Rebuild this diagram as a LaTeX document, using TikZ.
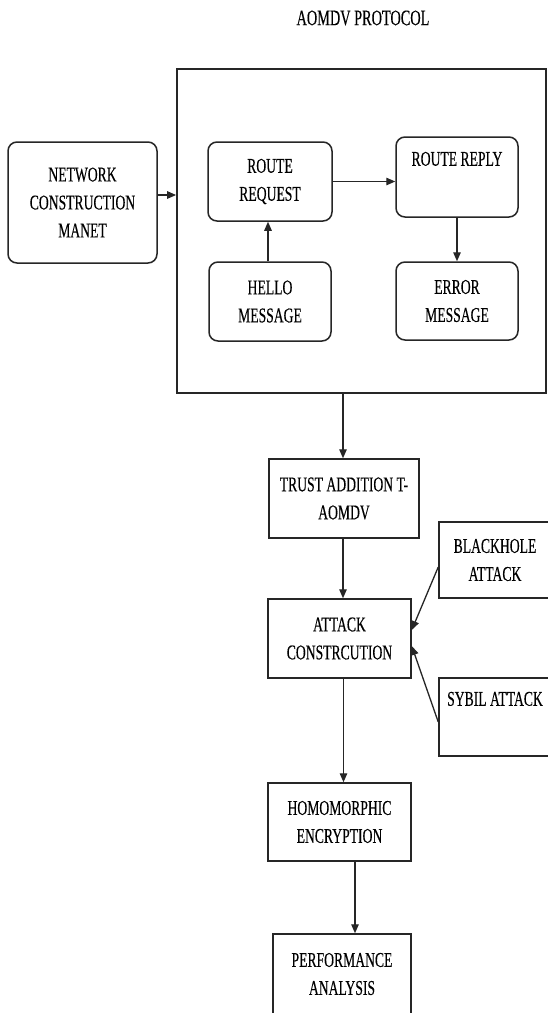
\documentclass[tikz,border=0pt]{standalone}
\usepackage{fontspec}
\setmainfont{Liberation Serif}[FakeStretch=0.65,FakeBold=0.25]
\usetikzlibrary{arrows.meta,calc}
\tikzset{
  txt/.style={font=\fontsize{21}{28}\selectfont, align=center, inner sep=0pt},
  rbox/.style={txt, draw=black!85, line width=1.5pt, rounded corners=9pt},
  sbox/.style={txt, draw=black!85, line width=1.5pt},
  arr/.style={draw=black!85, line width=1.3pt, -{Triangle[length=9pt,width=7.5pt]}},
}
\begin{document}
\begin{tikzpicture}[x=1pt,y=1pt]
\useasboundingbox (0,0) rectangle (547,-1013);
\fill[white] (0,0) rectangle (547,-1013);

\node[txt, font=\fontsize{22}{28}\selectfont] (title) at (363,-18) {AOMDV PROTOCOL};

\node[draw=black!85, line width=1.8pt, minimum width=369pt, minimum height=324pt, inner sep=0pt] (big) at (361.5,-231) {};

\node[rbox, minimum width=149pt, minimum height=121pt] (net) at (82.5,-202.5) {NETWORK\\CONSTRUCTION\\MANET};
\node[rbox, minimum width=124pt, minimum height=79pt] (req) at (270,-181.5) {ROUTE\\REQUEST};
\node[rbox, minimum width=122pt, minimum height=80pt] (rep) at (457,-177) {ROUTE REPLY\\\strut};
\node[rbox, minimum width=122pt, minimum height=79pt] (hello) at (270,-301.5) {HELLO\\MESSAGE};
\node[rbox, minimum width=122pt, minimum height=78pt] (err) at (457,-301) {ERROR\\MESSAGE};

\node[sbox, minimum width=150pt, minimum height=79pt] (trust) at (344,-498.5) {TRUST ADDITION T-\\AOMDV};
\node[sbox, minimum width=143pt, minimum height=79pt] (attack) at (339.5,-638.5) {ATTACK\\CONSTRCUTION};
\node[sbox, minimum width=112pt, minimum height=76pt] (black) at (495,-560) {BLACKHOLE\\ATTACK};
\node[sbox, minimum width=112pt, minimum height=78pt] (sybil) at (495,-717) {SYBIL ATTACK\\\strut};
\node[sbox, minimum width=143pt, minimum height=78pt] (homo) at (339.5,-822) {HOMOMORPHIC\\ENCRYPTION};
\node[sbox, minimum width=138pt, minimum height=80pt] (perf) at (342,-974) {PERFORMANCE\\ANALYSIS};

\draw[arr] ([yshift=7.5pt]net.east) -- ([yshift=7.5pt]net.east -| big.west);
\draw[arr] (req.east) -- (req.east -| rep.west);
\draw[arr] ([xshift=-2pt]hello.north) -- ([xshift=-2pt]req.south);
\draw[arr] (rep.south) -- (err.north);
\draw[arr] ([xshift=-1pt]trust.north |- big.south) -- ([xshift=-1pt]trust.north);
\draw[arr] ([xshift=-1pt]trust.south) -- ([xshift=-1pt]trust.south |- attack.north);
\draw[arr] ([yshift=-7pt]black.west) -- ([yshift=8.5pt]attack.east);
\draw[arr] ([yshift=-5pt]sybil.west) -- ([yshift=-7.5pt]attack.east);
\draw[arr] ([xshift=4pt]attack.south) -- ([xshift=4pt]attack.south |- homo.north);
\draw[arr] ([xshift=15.5pt]homo.south) -- ([xshift=15.5pt]homo.south |- perf.north);
\end{tikzpicture}
\end{document}
